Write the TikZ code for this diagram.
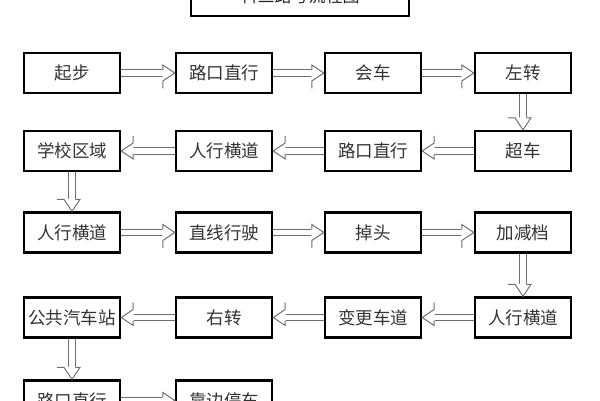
\documentclass[tikz,border=0pt]{standalone}
\usepackage{fontspec}
\newfontfamily\cjk{Noto Sans CJK SC}
\usetikzlibrary{decorations.markings}
\definecolor{arrgray}{HTML}{6E6E6E}
\begin{document}
\begin{tikzpicture}[x=1pt,y=-1pt,
  stepbox/.style={draw=black, line width=2.4pt, minimum width=96pt, minimum height=40pt, inner sep=0pt, text=black!80, font=\cjk\fontsize{17.5}{19}\selectfont},
  arr/.style={draw=arrgray, line width=1pt, double=white, double distance=5.5pt, shorten >=12pt,
    postaction={decorate, decoration={markings, mark=at position 1 with {
      \fill[white] (-12.5,-3.25) -- (-12.5,-8) -- (0,0) -- (-12.5,8) -- (-12.5,3.25) -- cycle;
      \draw[arrgray, line width=1pt, line join=miter] (-12,-3.25) -- (-12,-8) -- (0,0) -- (-12,8) -- (-12,3.25);
    }}}}]
\useasboundingbox (0,0) rectangle (600,400);
\clip (0,0) rectangle (600,400);
\fill[white] (0,0) rectangle (600,400);
\node[draw=black, line width=2.6pt, minimum width=218pt, minimum height=40pt, inner sep=0pt, font=\cjk\fontsize{17}{19}\selectfont, text=black!85] (title) at (300,-4) {科三路考流程图};
% row 1
\node[stepbox] (a1) at (72,73) {起步};
\node[stepbox] (a2) at (224,73) {路口直行};
\node[stepbox] (a3) at (373,73) {会车};
\node[stepbox] (a4) at (523,73) {左转};
% row 2
\node[stepbox] (b4) at (523,151) {超车};
\node[stepbox] (b3) at (373,151) {路口直行};
\node[stepbox] (b2) at (224,151) {人行横道};
\node[stepbox] (b1) at (72,151) {学校区域};
% row 3
\node[stepbox] (c1) at (72,232.5) {人行横道};
\node[stepbox] (c2) at (224,232.5) {直线行驶};
\node[stepbox] (c3) at (373,232.5) {掉头};
\node[stepbox] (c4) at (523,232.5) {加减档};
% row 4
\node[stepbox] (d4) at (523,317.5) {人行横道};
\node[stepbox] (d3) at (373,317.5) {变更车道};
\node[stepbox] (d2) at (224,317.5) {右转};
\node[stepbox] (d1) at (72,317.5) {公共汽车站};
% row 5
\node[stepbox] (e1) at (72,400.5) {路口直行};
\node[stepbox] (e2) at (224,400.5) {靠边停车};
% arrows
\draw[arr] (a1) -- (a2);
\draw[arr] (a2) -- (a3);
\draw[arr] (a3) -- (a4);
\draw[arr] (a4) -- (b4);
\draw[arr] (b4) -- (b3);
\draw[arr] (b3) -- (b2);
\draw[arr] (b2) -- (b1);
\draw[arr] (b1) -- (c1);
\draw[arr] (c1) -- (c2);
\draw[arr] (c2) -- (c3);
\draw[arr] (c3) -- (c4);
\draw[arr] (c4) -- (d4);
\draw[arr] (d4) -- (d3);
\draw[arr] (d3) -- (d2);
\draw[arr] (d2) -- (d1);
\draw[arr] (d1) -- (e1);
\draw[arr] (e1) -- (e2);
\end{tikzpicture}
\end{document}
